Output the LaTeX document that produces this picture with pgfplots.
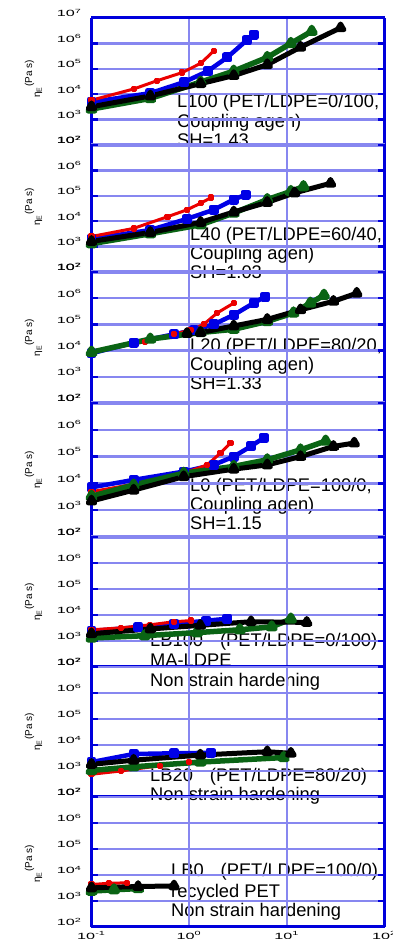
\documentclass[border=0pt]{standalone}
\usepackage{fontspec}
\setmainfont{Liberation Sans}
\usepackage{graphicx}
\usepackage{pgfplots}
\pgfplotsset{compat=1.18}

\definecolor{frameblue}{RGB}{0,0,220}
\definecolor{gridblue}{RGB}{135,135,240}
\definecolor{sred}{RGB}{235,0,0}
\definecolor{sblue}{RGB}{0,0,230}
\definecolor{sgreen}{RGB}{10,100,20}

\newcommand{\tlab}[1]{\scalebox{1.8}[1]{10\textsuperscript{#1}}}
\newcommand{\ann}[3]{\node[anchor=base west, inner sep=0pt, font=\fontsize{18.3}{19.5}\selectfont] at (#1pt,#2pt) {#3};}
\newcommand{\ylab}[1]{\node[rotate=90, anchor=base, inner sep=0pt, font=\fontsize{10}{10}\selectfont] at (40pt,#1pt) {η\textsubscript{E}\raisebox{8pt}{(Pa s)}};}

\tikzset{
 rS/.style={sred, mark=square*, mark size=1.6pt, line width=3pt, line join=round, mark options={solid}},
 bS/.style={sblue, mark=square*, mark size=2.7pt, line width=4.5pt, line join=round, mark options={solid}},
 gS/.style={sgreen, mark=triangle*, mark size=3.8pt, line width=5.5pt, line join=round, mark options={solid}},
 kS/.style={black, mark=triangle*, mark size=3.8pt, line width=5pt, line join=round, mark options={solid}},
}
\newcommand{\sides}{%
 \draw[frameblue, line width=3pt] (rel axis cs:0,0) -- (rel axis cs:0,1);
 \draw[frameblue, line width=3pt] (rel axis cs:1,0) -- (rel axis cs:1,1);}
\newcommand{\topdark}{\draw[frameblue, line width=3pt] (rel axis cs:0,1) -- (rel axis cs:1,1);}
\newcommand{\botdark}{\draw[frameblue, line width=3pt] (rel axis cs:0,0) -- (rel axis cs:1,0);}
\newcommand{\botlight}{\draw[gridblue, line width=3.5pt] (rel axis cs:0,0) -- (rel axis cs:1,0);}

\newcommand{\beginpanel}[3]{%
\begin{loglogaxis}[
  scale only axis, width=293pt, height=#2pt, anchor=south west, at={(91.5pt,#1pt)},
  xmin=0.1, xmax=100, ymin=1e2, ymax=1e7,
  xtick={0.1,1,10,100}, ytick={1e2,1e3,1e4,1e5,1e6,1e7},
  yticklabels={\tlab{2},\tlab{3},\tlab{4},\tlab{5},\tlab{6},\tlab{7}},
  xticklabels={#3},
  grid=major, major grid style={gridblue, line width=2.5pt},
  axis line style={draw=none},
  tick align=inside, major tick length=7pt, minor tick length=0pt,
  ytick style={frameblue, line width=2.5pt},
  xtick style={draw=none},
  tick label style={font=\fontsize{9}{9}\selectfont},
  yticklabel style={anchor=base east, inner sep=0pt, xshift=-9.5pt, yshift=1pt},
  xticklabel style={anchor=north, inner sep=0pt, yshift=-4.5pt},
  clip=false]}

\begin{document}
\begin{tikzpicture}
\useasboundingbox (0,0) rectangle (393pt,939pt);
\clip (0,0) rectangle (393pt,939pt);

% annotations
\ann{177}{831}{L100 (PET/LDPE=0/100,}
\ann{177}{811}{Coupling agen)}
\ann{177}{792}{SH=1.43}
\ann{190}{698}{L40 (PET/LDPE=60/40,}
\ann{190}{679}{Coupling agen)}
\ann{190}{660}{SH=1.03}
\ann{190}{587}{L20 (PET/LDPE=80/20,}
\ann{190}{568}{Coupling agen)}
\ann{190}{549}{SH=1.33}
\ann{190}{447}{L0 (PET/LDPE=100/0,}
\ann{190}{428}{Coupling agen)}
\ann{190}{409}{SH=1.15}
\ann{150}{292}{LB100\hspace{17pt}(PET/LDPE=0/100)}
\ann{150}{272}{MA-LDPE}
\ann{150}{252}{Non strain hardening}
\ann{150}{157}{LB20\hspace{17pt}(PET/LDPE=80/20)}
\ann{150}{138}{Non strain hardening}
\ann{171}{62}{LB0\hspace{17pt}(PET/LDPE=100/0)}
\ann{171}{41}{recycled PET}
\ann{171}{22}{Non strain hardening}

\ylab{860}
\ylab{732}
\ylab{601.5}
\ylab{469}
\ylab{337}
\ylab{207}
\ylab{75}

% Panel 1: L100
\beginpanel{794}{127}{}
\sides \topdark \botlight
\addplot[bS] coordinates {(0.1,4.9e3) (0.4,1.1e4) (0.89,3.0e4) (1.55,8.1e4) (2.45,2.8e5) (3.93,1.38e6) (4.57,2.2e6)};
\addplot[rS] coordinates {(0.1,5.8e3) (0.27,1.6e4) (0.47,3.4e4) (0.85,7.1e4) (1.32,1.66e5) (1.78,5.0e5)};
\addplot[gS] coordinates {(0.1,2.6e3) (0.4,6.8e3) (1.31,3.0e4) (2.86,8.1e4) (6.3,2.8e5) (11,1e6) (18,3e6)};
\addplot[kS] coordinates {(0.1,3.2e3) (0.4,8.5e3) (1.31,2.6e4) (2.86,5.4e4) (6.3,1.45e5) (13.8,7.1e5) (35.5,4.1e6)};
\end{loglogaxis}

% Panel 2: L40
\beginpanel{667}{127}{}
\sides \botlight
\addplot[bS] coordinates {(0.1,2.0e3) (0.4,4.5e3) (0.95,1.23e4) (1.78,2.8e4) (2.86,7.1e4) (3.78,1.1e5)};
\addplot[rS] coordinates {(0.1,2.5e3) (0.27,5.2e3) (0.6,1.5e4) (0.95,2.8e4) (1.31,5.1e4) (1.68,8.5e4)};
\addplot[gS] coordinates {(0.1,1.3e3) (0.4,3.2e3) (1.31,7.2e3) (2.86,2.1e4) (6.3,7.1e4) (11,1.48e5) (14.8,2.3e5)};
\addplot[kS] coordinates {(0.1,1.6e3) (0.4,3.6e3) (1.31,9e3) (2.86,2.3e4) (6.3,5.5e4) (12,1.3e5) (28,3.1e5)};
\end{loglogaxis}

% Panel 3: L20
\beginpanel{536}{131}{}
\sides \botlight
\addplot[bS] coordinates {(0.1,7.9e3) (0.27,2.0e4) (0.7,4.2e4) (1.12,6e4) (1.78,1e5) (2.86,2.3e5) (4.57,6.5e5) (6.0,1.15e6)};
\addplot[rS] coordinates {(0.1,8.5e3) (0.35,2.2e4) (0.7,4.3e4) (1.03,6e4) (1.41,1e5) (1.94,2.75e5) (2.86,6.5e5)};
\addplot[gS] coordinates {(0.1,8.7e3) (0.4,2.75e4) (1.31,4.9e4) (2.86,6.5e4) (6.3,1.3e5) (11.7,2.75e5) (17.4,6.5e5) (24,1.3e6)};
\addplot[kS] coordinates {(0.95,4.5e4) (1.31,4.9e4) (2.86,8.7e4) (6.3,1.55e5) (13.8,3.6e5) (30,7.6e5) (52,1.55e6)};
\end{loglogaxis}

% Panel 4: L0
\beginpanel{402}{134}{}
\sides \botlight
\addplot[bS] coordinates {(0.1,7.1e3) (0.27,1.35e4) (0.88,2.75e4) (1.78,4.9e4) (2.86,1e5) (4.27,2.4e5) (5.8,5e5)};
\addplot[rS] coordinates {(0.1,4.9e3) (0.27,9.3e3) (0.88,2.4e4) (1.53,4.9e4) (2.09,1.35e5) (2.65,3.2e5)};
\addplot[gS] coordinates {(0.1,3.3e3) (0.27,8.7e3) (0.88,2.4e4) (2.86,4.3e4) (6.3,7.6e4) (13.8,1.78e5) (25,3.8e5)};
\addplot[kS] coordinates {(0.1,2.2e3) (0.27,5.6e3) (0.88,1.78e4) (2.86,3.4e4) (6.3,4.9e4) (13.8,1e5) (30,2.4e5) (49,3.2e5)};
\end{loglogaxis}

% Panel 5: LB100
\beginpanel{272}{130}{}
\sides \botdark
\addplot[bS] coordinates {(0.1,2.4e3) (0.3,3.4e3) (0.7,4.6e3) (1.5,6e3) (2.45,7.2e3)};
\addplot[rS] coordinates {(0.1,2.7e3) (0.2,3.2e3) (0.4,4.2e3) (0.7,5.5e3) (1.05,6.1e3)};
\addplot[gS] coordinates {(0.1,1.3e3) (0.35,1.6e3) (1.2,2.1e3) (3.3,2.7e3) (7,3.5e3) (11,7e3)};
\addplot[kS] coordinates {(0.1,1.9e3) (0.4,2.9e3) (1.3,4e3) (4.3,5.5e3) (16,5.2e3)};
\end{loglogaxis}

% Panel 6: LB20
\beginpanel{142}{130}{}
\sides \botdark
\addplot[bS] coordinates {(0.1,2.2e3) (0.27,4.5e3) (0.7,4.8e3) (1.66,5e3)};
\addplot[rS] coordinates {(0.1,7.5e2) (0.2,1.0e3) (0.5,1.6e3) (1,2.2e3)};
\addplot[gS] coordinates {(0.1,1.05e3) (0.27,1.45e3) (1.3,2.2e3) (9.3,3.3e3)};
\addplot[kS] coordinates {(0.1,1.8e3) (0.27,2.6e3) (1.3,4.1e3) (6.3,5.5e3) (11,4.8e3)};
\end{loglogaxis}

% Panel 7: LB0
\beginpanel{12}{130}{\tlab{-1},\tlab{0},\tlab{1},\tlab{2}}
\sides \botdark
\addplot[rS] coordinates {(0.1,4.3e3) (0.15,4.8e3) (0.23,5e3)};
\addplot[gS] coordinates {(0.1,2.4e3) (0.17,2.7e3) (0.3,3.0e3)};
\addplot[kS] coordinates {(0.1,3.2e3) (0.3,3.6e3) (0.7,3.8e3)};
\end{loglogaxis}
\end{tikzpicture}
\end{document}
